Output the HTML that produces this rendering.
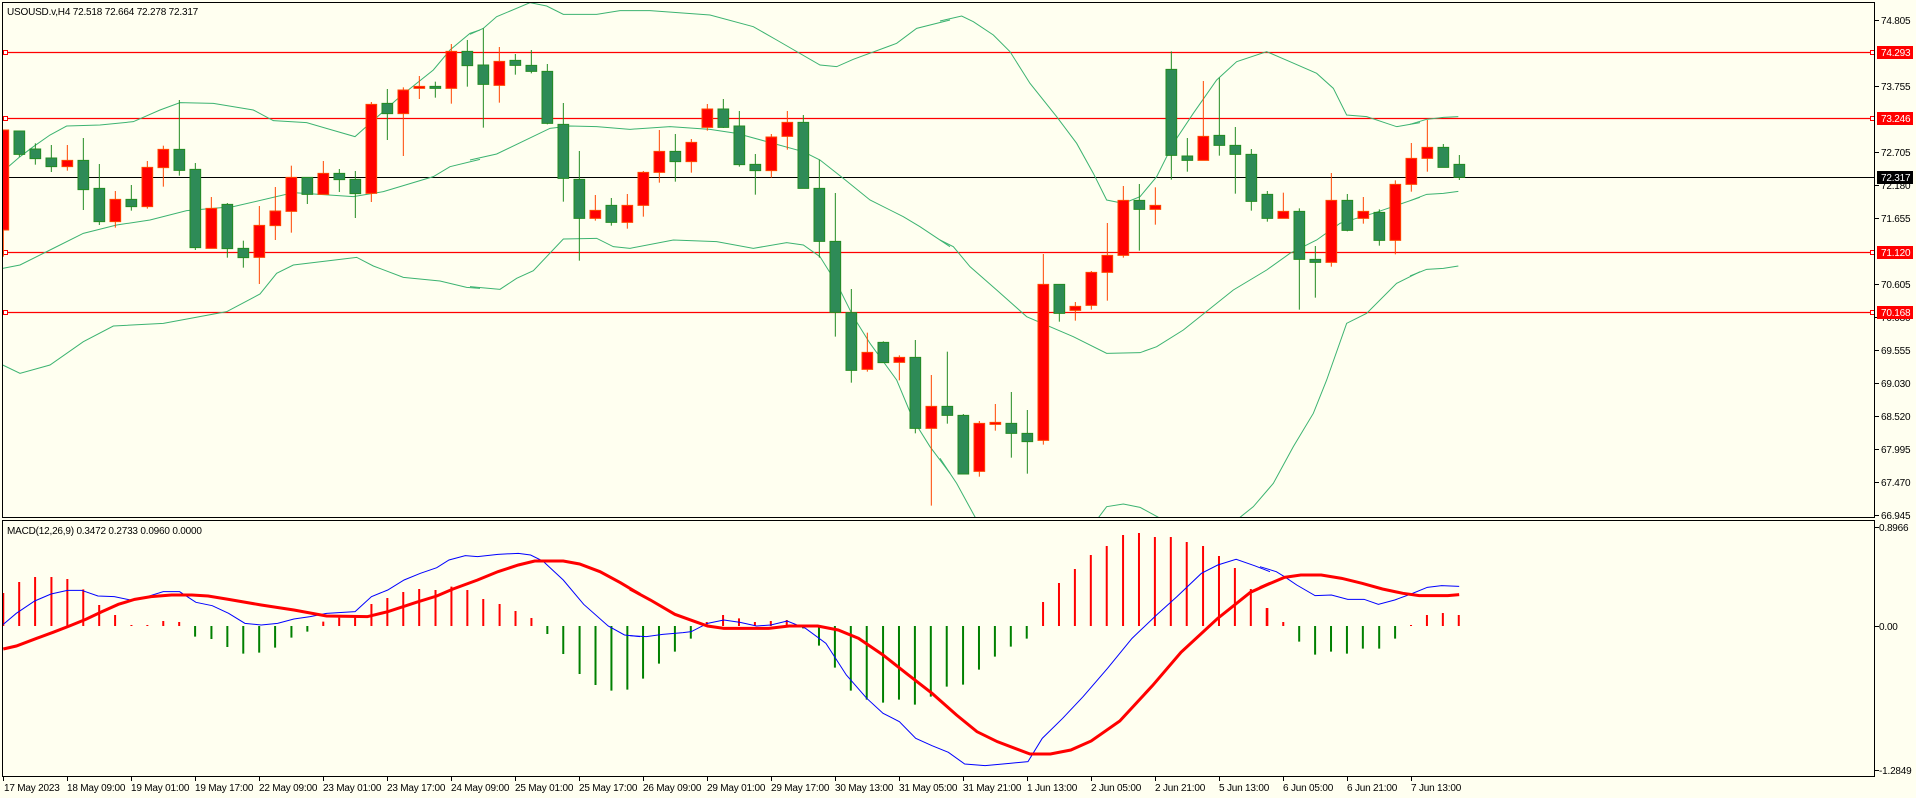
<!DOCTYPE html>
<html><head><meta charset="utf-8"><style>
html,body{margin:0;padding:0;background:#fffff0;}
svg{display:block}
text{font-family:"Liberation Sans",sans-serif;font-size:10px;letter-spacing:-0.2px;fill:#000}
.g{fill:#2e8b57;stroke:#228b22;stroke-width:1;vector-effect:non-scaling-stroke}
.r{fill:#ff0000;stroke:#ff4500;stroke-width:1;vector-effect:non-scaling-stroke}
.wg{stroke:#228b22;stroke-width:1;vector-effect:non-scaling-stroke;fill:none}
.wr{stroke:#ff4500;stroke-width:1;vector-effect:non-scaling-stroke;fill:none}
.bb{stroke:#3cb371;stroke-width:1;vector-effect:non-scaling-stroke;fill:none}
.hg{stroke:#008000;stroke-width:2;vector-effect:non-scaling-stroke;fill:none}
.hr{stroke:#ff0000;stroke-width:2;vector-effect:non-scaling-stroke;fill:none}
.bl{stroke:#0000ff;stroke-width:1;vector-effect:non-scaling-stroke;fill:none}
.rd{stroke:#ff0000;stroke-width:3;vector-effect:non-scaling-stroke;fill:none}
</style></head><body>
<svg width="1916" height="798" viewBox="0 0 1916 798" xmlns="http://www.w3.org/2000/svg">
<defs>
<clipPath id="cm"><rect x="2.5" y="2.5" width="1872" height="515"/></clipPath>
<clipPath id="cd"><rect x="2.5" y="520.5" width="1872" height="256"/></clipPath>
</defs>
<rect width="1916" height="798" fill="#fffff0"/>

<g clip-path="url(#cm)">
<g stroke="#ff0000" stroke-width="1.2">
<line x1="2" y1="52.5" x2="1875" y2="52.5"/>
<line x1="2" y1="118.5" x2="1875" y2="118.5"/>
<line x1="2" y1="252.5" x2="1875" y2="252.5"/>
<line x1="2" y1="312.5" x2="1875" y2="312.5"/>
</g>
<line x1="2" y1="177.5" x2="1875" y2="177.5" stroke="#000" stroke-width="1"/>
<g fill="#fff" stroke="#ff0000" stroke-width="1">
<rect x="3.5" y="50.5" width="4" height="4"/><rect x="3.5" y="116.5" width="4" height="4"/><rect x="3.5" y="250.5" width="4" height="4"/><rect x="3.5" y="310.5" width="4" height="4"/>
<rect x="1870.5" y="50.5" width="4" height="4"/><rect x="1870.5" y="116.5" width="4" height="4"/><rect x="1870.5" y="250.5" width="4" height="4"/><rect x="1870.5" y="310.5" width="4" height="4"/>
</g>

<g transform="translate(0,0) scale(0.33333)">
<polyline class="bb" points="8,515 60,470 100,440 150,405 200,378 300,375 400,365 480,330 540,308 640,310 760,330 820,362 920,368 1065,410 1110,370 1200,290 1300,210 1350,150 1410,100 1440,90"/>
<polyline class="bb" points="8,805 60,795 150,750 250,700 350,675 450,660 560,632 700,620 880,578 1060,590 1150,575 1300,530 1350,500 1440,478"/>
<polyline class="bb" points="8,1095 60,1120 150,1095 250,1025 340,978 490,970 680,935 780,882 830,820 880,795 1070,772 1120,798 1210,832 1320,843 1400,862 1440,865"/>
</g>
<g transform="translate(470,0) scale(0.33333)">
<polyline class="bb" points="0,103 40,85 80,50 180,8 230,18 280,43 380,43 450,32 540,32 720,45 850,80 920,120 1050,195 1100,200 1150,178 1280,130 1340,85 1440,60"/>
<polyline class="bb" points="0,480 80,462 240,385 300,378 380,380 480,388 600,380 720,388 800,400 1000,455 1050,480 1120,535 1200,600 1300,650 1350,680 1440,740"/>
<polyline class="bb" points="0,860 90,868 140,835 190,812 280,717 380,715 430,740 480,745 610,720 740,725 850,745 950,728 1000,735 1050,770 1100,850 1150,950 1200,1030 1280,1140 1330,1260 1380,1340 1440,1420"/>
</g>
<g transform="translate(940,0) scale(0.33333)">
<polyline class="bb" points="0,63 65,48 100,65 160,105 210,155 270,250 350,350 410,430 460,520 500,600 550,610 600,590 650,530 700,430 760,340 830,240 890,185 980,155 1050,185 1130,220 1180,265 1220,345 1280,350 1370,380 1440,368"/>
<polyline class="bb" points="0,720 40,740 90,800 170,870 260,950 400,1010 500,1060 600,1058 650,1040 730,990 880,870 980,810 1050,760 1130,720 1200,670 1300,640 1440,592"/>
<polyline class="bb" points="0,1375 50,1450 110,1560"/>
<polyline class="bb" points="470,1560 500,1520 550,1512 600,1522 670,1560"/>
<polyline class="bb" points="890,1560 940,1520 1000,1450 1060,1340 1120,1240 1160,1140 1220,970 1280,940 1370,850 1440,815"/>
</g>
<g transform="translate(1410,0) scale(0.33333)">
<polyline class="bb" points="0,373 50,358 100,352 145,350"/>
<polyline class="bb" points="0,602 50,583 100,580 145,574"/>
<polyline class="bb" points="0,828 50,808 100,805 145,798"/>
</g>

<g transform="translate(0,0) scale(0.33333)">
<path class="wr" d="M10 390V770"/><rect class="r" x="-6" y="390" width="32" height="300"/>
<path class="wg" d="M58 393V470"/><rect class="g" x="42" y="393" width="32" height="70"/>
<path class="wg" d="M106 430V494"/><rect class="g" x="90" y="447" width="32" height="29"/>
<path class="wg" d="M154 435V516"/><rect class="g" x="138" y="474" width="32" height="26"/>
<path class="wr" d="M202 435V512"/><rect class="r" x="186" y="481" width="32" height="19"/>
<path class="wg" d="M250 414V630"/><rect class="g" x="234" y="481" width="32" height="88"/>
<path class="wg" d="M298 492V675"/><rect class="g" x="282" y="565" width="32" height="100"/>
<path class="wr" d="M346 573V683"/><rect class="r" x="330" y="598" width="32" height="67"/>
<path class="wg" d="M394 555V632"/><rect class="g" x="378" y="598" width="32" height="22"/>
<path class="wr" d="M442 483V626"/><rect class="r" x="426" y="502" width="32" height="118"/>
<path class="wr" d="M490 437V560"/><rect class="r" x="474" y="448" width="32" height="55"/>
<path class="wg" d="M538 300V527"/><rect class="g" x="522" y="448" width="32" height="63"/>
<path class="wg" d="M586 489V750"/><rect class="g" x="570" y="508" width="32" height="235"/>
<path class="wr" d="M634 591V745"/><rect class="r" x="618" y="625" width="32" height="120"/>
<path class="wg" d="M682 609V773"/><rect class="g" x="666" y="613" width="32" height="133"/>
<path class="wg" d="M730 722V803"/><rect class="g" x="714" y="745" width="32" height="28"/>
<path class="wr" d="M778 618V852"/><rect class="r" x="762" y="676" width="32" height="96"/>
<path class="wr" d="M826 561V720"/><rect class="r" x="810" y="633" width="32" height="44"/>
<path class="wr" d="M874 497V698"/><rect class="r" x="858" y="532" width="32" height="102"/>
<path class="wg" d="M922 532V612"/><rect class="g" x="906" y="532" width="32" height="51"/>
<path class="wr" d="M970 483V583"/><rect class="r" x="954" y="520" width="32" height="63"/>
<path class="wg" d="M1018 507V576"/><rect class="g" x="1002" y="520" width="32" height="19"/>
<path class="wg" d="M1066 513V654"/><rect class="g" x="1050" y="538" width="32" height="43"/>
<path class="wr" d="M1114 306V606"/><rect class="r" x="1098" y="313" width="32" height="267"/>
<path class="wg" d="M1162 267V420"/><rect class="g" x="1146" y="310" width="32" height="31"/>
<path class="wr" d="M1210 262V468"/><rect class="r" x="1194" y="270" width="32" height="71"/>
<path class="wr" d="M1258 228V297"/><rect class="r" x="1242" y="259" width="32" height="6"/>
<path class="wg" d="M1306 245V293"/><rect class="g" x="1290" y="259" width="32" height="6"/>
<path class="wr" d="M1354 132V311"/><rect class="r" x="1338" y="154" width="32" height="111"/>
<path class="wg" d="M1402 120V260"/><rect class="g" x="1386" y="154" width="32" height="43"/>
</g>
<g transform="translate(470,0) scale(0.33333)">
<path class="wg" d="M40 85V383"/><rect class="g" x="24" y="195" width="32" height="58"/>
<path class="wr" d="M88 141V308"/><rect class="r" x="72" y="184" width="32" height="72"/>
<path class="wg" d="M136 162V224"/><rect class="g" x="120" y="181" width="32" height="15"/>
<path class="wg" d="M184 150V220"/><rect class="g" x="168" y="196" width="32" height="18"/>
<path class="wg" d="M232 192V373"/><rect class="g" x="216" y="214" width="32" height="156"/>
<path class="wg" d="M280 309V605"/><rect class="g" x="264" y="373" width="32" height="162"/>
<path class="wg" d="M328 453V782"/><rect class="g" x="312" y="538" width="32" height="117"/>
<path class="wr" d="M376 585V662"/><rect class="r" x="360" y="631" width="32" height="24"/>
<path class="wg" d="M424 594V677"/><rect class="g" x="408" y="616" width="32" height="51"/>
<path class="wr" d="M472 582V686"/><rect class="r" x="456" y="616" width="32" height="51"/>
<path class="wr" d="M520 513V650"/><rect class="r" x="504" y="517" width="32" height="99"/>
<path class="wr" d="M568 390V548"/><rect class="r" x="552" y="454" width="32" height="63"/>
<path class="wg" d="M616 402V545"/><rect class="g" x="600" y="454" width="32" height="31"/>
<path class="wr" d="M664 417V518"/><rect class="r" x="648" y="427" width="32" height="58"/>
<path class="wr" d="M712 312V392"/><rect class="r" x="696" y="327" width="32" height="55"/>
<path class="wg" d="M760 297V384"/><rect class="g" x="744" y="327" width="32" height="55"/>
<path class="wg" d="M808 333V500"/><rect class="g" x="792" y="378" width="32" height="116"/>
<path class="wg" d="M856 462V584"/><rect class="g" x="840" y="493" width="32" height="19"/>
<path class="wr" d="M904 402V533"/><rect class="r" x="888" y="411" width="32" height="101"/>
<path class="wr" d="M952 333V449"/><rect class="r" x="936" y="367" width="32" height="42"/>
<path class="wg" d="M1000 345V565"/><rect class="g" x="984" y="367" width="32" height="198"/>
<path class="wg" d="M1048 479V773"/><rect class="g" x="1032" y="565" width="32" height="159"/>
<path class="wg" d="M1096 579V1010"/><rect class="g" x="1080" y="724" width="32" height="213"/>
<path class="wg" d="M1144 867V1148"/><rect class="g" x="1128" y="938" width="32" height="173"/>
<path class="wr" d="M1192 998V1115"/><rect class="r" x="1176" y="1057" width="32" height="51"/>
<path class="wg" d="M1240 1024V1088"/><rect class="g" x="1224" y="1027" width="32" height="61"/>
<path class="wr" d="M1288 1066V1141"/><rect class="r" x="1272" y="1072" width="32" height="15"/>
<path class="wg" d="M1336 1020V1300"/><rect class="g" x="1320" y="1072" width="32" height="213"/>
<path class="wr" d="M1384 1125V1517"/><rect class="r" x="1368" y="1219" width="32" height="66"/>
<path class="wg" d="M1432 1055V1271"/><rect class="g" x="1416" y="1219" width="32" height="27"/>
</g>
<g transform="translate(940,0) scale(0.33333)">
<path class="wg" d="M70 1242V1422"/><rect class="g" x="54" y="1246" width="32" height="176"/>
<path class="wr" d="M118 1263V1430"/><rect class="r" x="102" y="1270" width="32" height="144"/>
<path class="wr" d="M166 1212V1292"/><rect class="r" x="150" y="1267" width="32" height="6"/>
<path class="wg" d="M214 1176V1373"/><rect class="g" x="198" y="1270" width="32" height="30"/>
<path class="wg" d="M262 1230V1421"/><rect class="g" x="246" y="1300" width="32" height="25"/>
<path class="wr" d="M310 762V1334"/><rect class="r" x="294" y="853" width="32" height="468"/>
<path class="wg" d="M358 853V965"/><rect class="g" x="342" y="853" width="32" height="87"/>
<path class="wr" d="M406 906V962"/><rect class="r" x="390" y="919" width="32" height="12"/>
<path class="wr" d="M454 813V929"/><rect class="r" x="438" y="817" width="32" height="99"/>
<path class="wr" d="M502 669V902"/><rect class="r" x="486" y="766" width="32" height="51"/>
<path class="wr" d="M550 558V773"/><rect class="r" x="534" y="601" width="32" height="165"/>
<path class="wg" d="M598 552V752"/><rect class="g" x="582" y="601" width="32" height="27"/>
<path class="wr" d="M646 562V674"/><rect class="r" x="630" y="616" width="32" height="12"/>
<path class="wg" d="M694 154V539"/><rect class="g" x="678" y="208" width="32" height="258"/>
<path class="wg" d="M742 414V515"/><rect class="g" x="726" y="468" width="32" height="13"/>
<path class="wr" d="M790 243V481"/><rect class="r" x="774" y="409" width="32" height="72"/>
<path class="wg" d="M838 233V467"/><rect class="g" x="822" y="406" width="32" height="30"/>
<path class="wg" d="M886 381V581"/><rect class="g" x="870" y="436" width="32" height="27"/>
<path class="wg" d="M934 447V632"/><rect class="g" x="918" y="463" width="32" height="141"/>
<path class="wg" d="M982 573V665"/><rect class="g" x="966" y="583" width="32" height="72"/>
<path class="wr" d="M1030 578V655"/><rect class="r" x="1014" y="634" width="32" height="21"/>
<path class="wg" d="M1078 625V929"/><rect class="g" x="1062" y="634" width="32" height="144"/>
<path class="wg" d="M1126 738V893"/><rect class="g" x="1110" y="778" width="32" height="9"/>
<path class="wr" d="M1174 519V800"/><rect class="r" x="1158" y="601" width="32" height="186"/>
<path class="wg" d="M1222 582V694"/><rect class="g" x="1206" y="601" width="32" height="90"/>
<path class="wr" d="M1270 591V671"/><rect class="r" x="1254" y="634" width="32" height="21"/>
<path class="wg" d="M1318 628V737"/><rect class="g" x="1302" y="637" width="32" height="84"/>
<path class="wr" d="M1366 541V763"/><rect class="r" x="1350" y="553" width="32" height="168"/>
<path class="wr" d="M1414 429V575"/><rect class="r" x="1398" y="475" width="32" height="78"/>
</g>
<g transform="translate(1410,0) scale(0.33333)">
<path class="wr" d="M52 360V515"/><rect class="r" x="36" y="442" width="32" height="33"/>
<path class="wg" d="M100 432V502"/><rect class="g" x="84" y="442" width="32" height="60"/>
<path class="wg" d="M148 465V540"/><rect class="g" x="132" y="493" width="32" height="39"/>
</g>
</g>

<g clip-path="url(#cd)">
<g transform="translate(0,515) scale(0.408163,0.33333)">
<path class="hr" d="M8 333V234M47 333V201M86 333V186M126 333V186M165 333V192M204 333V223M243 333V270M282 333V300M322 333V330M361 333V330M400 333V318M439 333V321M792 333V320M831 333V308M870 333V308M910 333V267M949 333V249M988 333V231M1027 333V222M1067 333V225M1106 333V215M1145 333V225M1184 333V252M1224 333V267M1263 333V288M1302 333V309"/>
<path class="hg" d="M478 333V365M518 333V372M557 333V396M596 333V416M635 333V413M674 333V398M714 333V368M753 333V350M1341 333V357M1380 333V417M1420 333V477M1459 333V510M1498 333V527M1537 333V524"/>
<polyline class="bl" points="8,328 40,295 85,258 125,237 165,226 200,226 240,243 280,245 320,255 360,245 400,230 440,230 480,262 520,272 560,295 600,325 640,330 680,325 720,312 760,305 800,295 870,290 910,245 950,225 990,195 1030,175 1070,158 1100,135 1140,122 1170,125 1220,118 1270,115 1300,120 1330,138 1380,195 1430,268 1490,333 1530,360 1568,365"/>
<polyline class="rd" points="8,402 40,393 90,370 130,352 170,333 210,313 250,290 290,268 330,253 370,245 420,240 470,240 510,243 560,253 640,270 720,285 800,303 900,305 950,290 1020,262 1070,243 1110,222 1170,195 1220,170 1270,150 1310,138 1380,138 1420,147 1470,170 1520,203 1568,238"/>
</g>
<g transform="translate(630,515) scale(0.408163,0.33333)">
<path class="hg" d="M32 333V491M71 333V446M110 333V410M149 333V371M424 333V340M463 333V392M502 333V458M541 333V527M580 333V554M620 333V563M659 333V554M698 333V569M737 333V545M776 333V515M816 333V509M855 333V464M894 333V425M933 333V395M972 333V371"/>
<path class="hr" d="M188 333V321M228 333V300M267 333V310M306 333V321M345 333V318M384 333V315M1012 333V261M1051 333V204M1090 333V162M1129 333V120M1168 333V93M1208 333V60M1247 333V54M1286 333V66M1325 333V66M1364 333V81M1404 333V93M1443 333V123M1482 333V159M1521 333V222M1560 333V279"/>
<polyline class="bl" points="0,362 40,365 80,358 130,353 150,350 190,325 230,315 270,322 310,333 345,330 385,318 430,340 480,385 530,480 580,550 620,595 660,620 700,670 740,692 780,712 820,747 870,752 930,745 975,740 1010,670 1060,610 1110,545 1170,460 1230,370 1290,300 1340,245 1400,175 1440,150 1485,133 1530,152 1568,170"/>
<polyline class="rd" points="0,222 50,255 110,298 160,320 190,333 230,340 340,340 390,333 460,333 510,345 560,370 620,420 680,478 740,535 800,600 850,650 900,680 980,717 1030,717 1080,705 1130,678 1200,618 1280,512 1350,412 1440,310 1520,232 1568,205"/>
</g>
<g transform="translate(1260,515) scale(0.408163,0.33333)">
<path class="hr" d="M18 333V279M57 333V321M370 333V330M409 333V300M448 333V294M487 333V300"/>
<path class="hg" d="M96 333V380M135 333V419M174 333V410M213 333V416M252 333V401M292 333V401M331 333V371"/>
<polyline class="bl" points="0,155 40,170 60,185 90,210 135,242 175,240 215,253 255,253 290,268 330,255 370,237 410,217 445,212 488,214"/>
<polyline class="rd" points="0,218 60,187 100,180 150,180 200,190 250,205 300,222 350,235 390,242 460,242 488,239"/>
</g>
</g>

<rect x="2.5" y="2.5" width="1872" height="515" fill="none" stroke="#000" stroke-width="1"/>
<rect x="2.5" y="520.5" width="1872" height="256" fill="none" stroke="#000" stroke-width="1"/>

<text x="7" y="15">USOUSD.v,H4  72.518 72.664 72.278 72.317</text>
<text x="7" y="534">MACD(12,26,9) 0.3472 0.2733 0.0960 0.0000</text>

<g stroke="#000" stroke-width="1">
<path d="M1875 20.5h4M1875 86.5h4M1875 152.5h4M1875 185.5h4M1875 218.5h4M1875 284.5h4M1875 317.5h4M1875 350.5h4M1875 383.5h4M1875 416.5h4M1875 449.5h4M1875 482.5h4M1875 515.5h4M1875 527.5h4M1875 626.5h4M1875 770.5h4"/>
</g>
<g>
<text x="1881" y="24">74.805</text>
<text x="1881" y="90">73.755</text>
<text x="1881" y="156">72.705</text>
<text x="1881" y="189">72.180</text>
<text x="1881" y="222">71.655</text>
<text x="1881" y="288">70.605</text>
<text x="1881" y="321">70.080</text>
<text x="1881" y="354">69.555</text>
<text x="1881" y="387">69.030</text>
<text x="1881" y="420">68.520</text>
<text x="1881" y="453">67.995</text>
<text x="1881" y="486">67.470</text>
<text x="1881" y="519">66.945</text>
<text x="1879" y="531">0.8966</text>
<text x="1879" y="630">0.00</text>
<text x="1879" y="774">-1.2849</text>
</g>
<g>
<rect x="1877" y="46" width="36" height="13" fill="#ff0000"/><text x="1881" y="56" style="fill:#fff">74.293</text>
<rect x="1877" y="112" width="36" height="13" fill="#ff0000"/><text x="1881" y="122" style="fill:#fff">73.246</text>
<rect x="1877" y="246" width="36" height="13" fill="#ff0000"/><text x="1881" y="256" style="fill:#fff">71.120</text>
<rect x="1877" y="306" width="36" height="13" fill="#ff0000"/><text x="1881" y="316" style="fill:#fff">70.168</text>
<rect x="1877" y="171" width="36" height="13" fill="#000"/><text x="1881" y="181" style="fill:#fff">72.317</text>
</g>

<g stroke="#000" stroke-width="1">
<path d="M3.5 777v4M67.5 777v4M131.5 777v4M195.5 777v4M259.5 777v4M323.5 777v4M387.5 777v4M451.5 777v4M515.5 777v4M579.5 777v4M643.5 777v4M707.5 777v4M771.5 777v4M835.5 777v4M899.5 777v4M963.5 777v4M1027.5 777v4M1091.5 777v4M1155.5 777v4M1219.5 777v4M1283.5 777v4M1347.5 777v4M1411.5 777v4"/>
</g>
<g>
<text x="4" y="791">17 May 2023</text>
<text x="67" y="791">18 May 09:00</text>
<text x="131" y="791">19 May 01:00</text>
<text x="195" y="791">19 May 17:00</text>
<text x="259" y="791">22 May 09:00</text>
<text x="323" y="791">23 May 01:00</text>
<text x="387" y="791">23 May 17:00</text>
<text x="451" y="791">24 May 09:00</text>
<text x="515" y="791">25 May 01:00</text>
<text x="579" y="791">25 May 17:00</text>
<text x="643" y="791">26 May 09:00</text>
<text x="707" y="791">29 May 01:00</text>
<text x="771" y="791">29 May 17:00</text>
<text x="835" y="791">30 May 13:00</text>
<text x="899" y="791">31 May 05:00</text>
<text x="963" y="791">31 May 21:00</text>
<text x="1027" y="791">1 Jun 13:00</text>
<text x="1091" y="791">2 Jun 05:00</text>
<text x="1155" y="791">2 Jun 21:00</text>
<text x="1219" y="791">5 Jun 13:00</text>
<text x="1283" y="791">6 Jun 05:00</text>
<text x="1347" y="791">6 Jun 21:00</text>
<text x="1411" y="791">7 Jun 13:00</text>
</g>
</svg>
</body></html>
